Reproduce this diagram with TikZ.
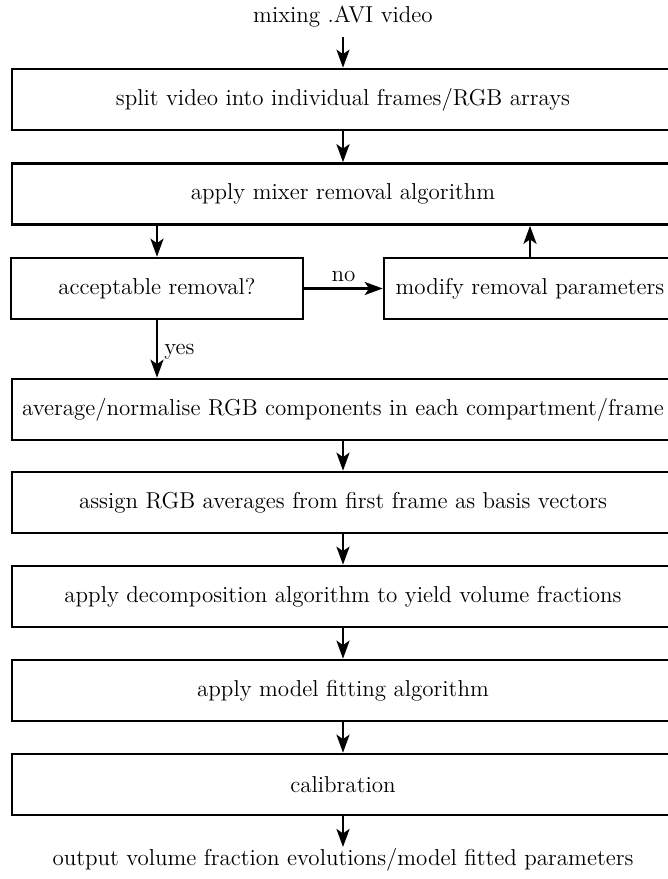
\documentclass[tikz,border=0pt]{standalone}
\usetikzlibrary{arrows.meta}
\begin{document}
\begin{tikzpicture}[x=0.5pt,y=-0.5pt,
  every node/.style={font=\fontsize{11.5}{14}\selectfont},
  box/.style={draw,line width=1.3pt,inner sep=0pt,minimum height=30.5pt},
  wide/.style={box,minimum width=331pt},
  arr/.style={line width=1.3pt,-{Stealth[length=9pt,width=6.5pt,inset=2.2pt]}}]
\useasboundingbox (0,0) rectangle (668,879);
\clip (0,0) rectangle (668,879);
\node (in) at (343,17) {mixing .AVI video};
\node[wide] (b1) at (343,99.5) {split video into individual frames/RGB arrays};
\node[wide] (b2) at (343,194) {apply mixer removal algorithm};
\node[box,minimum width=146pt] (acc) at (157,288.5) {acceptable removal?};
\node[box,minimum width=146pt] (mod) at (530,288.5) {modify removal parameters};
\node[wide] (b3) at (343,409.5) {average/normalise RGB components in each compartment/frame};
\node[wide] (b4) at (343,502.5) {assign RGB averages from first frame as basis vectors};
\node[wide] (b5) at (343,596.5) {apply decomposition algorithm to yield volume fractions};
\node[wide] (b6) at (343,690.5) {apply model fitting algorithm};
\node[wide] (b7) at (343,784.5) {calibration};
\node (out) at (343,860) {output volume fraction evolutions/model fitted parameters};
\coordinate (inA) at (343,37);
\coordinate (outA) at (343,847);
\draw[arr] (inA) -- (b1);
\draw[arr] (b1) -- (b2);
\draw[arr] (acc.north |- b2.south) -- (acc.north);
\draw[arr] (acc) -- node[above,yshift=-0.5pt] {no} (mod);
\draw[arr] (mod.north) -- (mod.north |- b2.south);
\draw[arr] (acc.south) -- node[right,inner sep=3pt,yshift=-1.5pt] {yes} (acc.south |- b3.north);
\draw[arr] (b3) -- (b4);
\draw[arr] (b4) -- (b5);
\draw[arr] (b5) -- (b6);
\draw[arr] (b6) -- (b7);
\draw[arr] (b7) -- (outA);
\end{tikzpicture}
\end{document}
